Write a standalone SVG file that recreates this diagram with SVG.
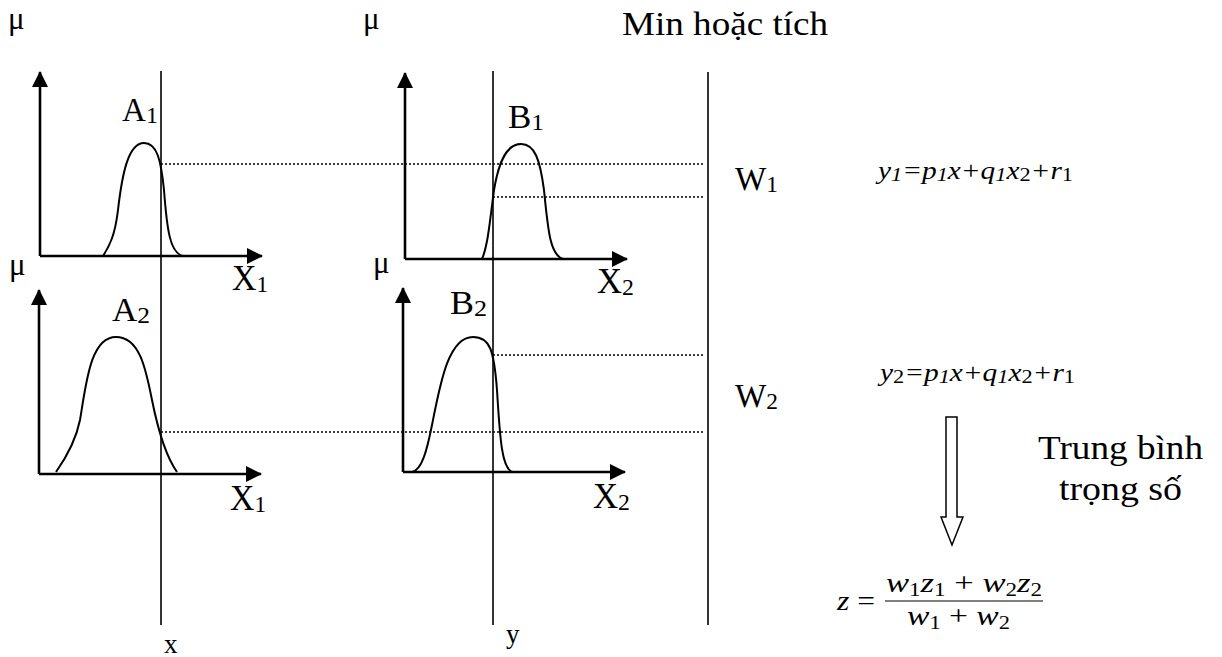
<svg xmlns="http://www.w3.org/2000/svg" width="1222" height="657" viewBox="0 0 1222 657">
<style>
.t{font-family:"Liberation Serif","Times New Roman",serif;fill:#000}
.i{font-family:"Liberation Serif","Times New Roman",serif;font-style:italic;fill:#000}
.ax{stroke:#000;stroke-width:2.6;fill:none}
.v{stroke:#000;stroke-width:1.6;fill:none}
.d{stroke:#000;stroke-width:1.3;stroke-dasharray:2 2;fill:none}
.c{stroke:#000;stroke-width:2;fill:none}
</style>
<defs>
<marker id="ah" markerUnits="userSpaceOnUse" markerWidth="16" markerHeight="16" viewBox="0 0 16 16" refX="15" refY="8" orient="auto">
<path d="M0,0 L16,8 L0,16 Z" fill="#000"/>
</marker>
</defs>
<rect width="1222" height="657" fill="#fff"/>

<text class="t" x="622" y="35" font-size="33" textLength="206" lengthAdjust="spacingAndGlyphs">Min hoặc tích</text>

<g id="connectors">
<line class="v" x1="161" y1="71" x2="161" y2="625"/>
<line class="v" x1="493" y1="71" x2="493" y2="625"/>
<line class="v" x1="708" y1="72" x2="708" y2="625"/>
<line class="d" x1="161" y1="164" x2="705" y2="164"/>
<line class="d" x1="493" y1="197" x2="705" y2="197"/>
<line class="d" x1="493" y1="355" x2="705" y2="355"/>
<line class="d" x1="161" y1="432" x2="705" y2="432"/>
<polygon points="946,417 957,417 957,517 963,517 952,545 941,517 946,517" fill="#fff" stroke="#000" stroke-width="1.5"/>
</g>

<g id="panel-A1">
<line class="ax" x1="40" y1="256" x2="40" y2="72" marker-end="url(#ah)"/>
<line class="ax" x1="40" y1="256" x2="262" y2="256" marker-end="url(#ah)"/>
<path class="c" d="M103,256 C110,245 115,235 118,210 C122,175 128,143 144,143 C157,143 161,160 164,190 C167,230 170,253 183,256"/>
<text class="t" x="8" y="29" font-size="31">μ</text>
<text class="t" x="122" y="121" font-size="33" textLength="36" lengthAdjust="spacingAndGlyphs">A<tspan font-size="24" dy="2">1</tspan></text>
<text class="t" x="232" y="290" font-size="35" textLength="36" lengthAdjust="spacingAndGlyphs">X<tspan font-size="24" dy="2">1</tspan></text>
</g>

<g id="panel-A2">
<line class="ax" x1="39" y1="474" x2="39" y2="290" marker-end="url(#ah)"/>
<line class="ax" x1="39" y1="474" x2="261" y2="474" marker-end="url(#ah)"/>
<path class="c" d="M56,472 C68,455 76,440 80,420 C86,385 90,337 116,337 C140,337 146,370 152,400 C158,430 165,455 177,472"/>
<text class="t" x="9" y="275" font-size="31">μ</text>
<text class="t" x="112" y="321" font-size="33" textLength="38" lengthAdjust="spacingAndGlyphs">A<tspan font-size="24" dy="2">2</tspan></text>
<text class="t" x="230" y="510" font-size="35" textLength="36" lengthAdjust="spacingAndGlyphs">X<tspan font-size="24" dy="2">1</tspan></text>
</g>

<g id="panel-B1">
<line class="ax" x1="405" y1="259" x2="405" y2="73" marker-end="url(#ah)"/>
<line class="ax" x1="405" y1="259" x2="627" y2="259" marker-end="url(#ah)"/>
<path class="c" d="M482,259 C488,245 490,220 494,190 C499,160 507,144 521,144 C535,144 540,160 544,190 C548,230 550,255 563,259"/>
<text class="t" x="363" y="29" font-size="31">μ</text>
<text class="t" x="508" y="128" font-size="33" textLength="36" lengthAdjust="spacingAndGlyphs">B<tspan font-size="24" dy="2">1</tspan></text>
<text class="t" x="597" y="293" font-size="35" textLength="37" lengthAdjust="spacingAndGlyphs">X<tspan font-size="24" dy="2">2</tspan></text>
</g>

<g id="panel-B2">
<line class="ax" x1="403" y1="472" x2="403" y2="288" marker-end="url(#ah)"/>
<line class="ax" x1="403" y1="472" x2="625" y2="472" marker-end="url(#ah)"/>
<path class="c" d="M412,472 C422,470 427,450 432,425 C440,385 448,337 473,337 C490,337 494,350 497,390 C500,440 502,470 513,472"/>
<text class="t" x="373" y="273" font-size="31">μ</text>
<text class="t" x="450" y="314" font-size="33" textLength="37" lengthAdjust="spacingAndGlyphs">B<tspan font-size="24" dy="2">2</tspan></text>
<text class="t" x="593" y="508" font-size="35" textLength="37" lengthAdjust="spacingAndGlyphs">X<tspan font-size="24" dy="2">2</tspan></text>
</g>

<g id="label-W1">
<text class="t" x="735" y="190" font-size="34" textLength="43" lengthAdjust="spacingAndGlyphs">W<tspan font-size="24" dy="2">1</tspan></text>
</g>
<g id="label-W2">
<text class="t" x="735" y="407" font-size="34" textLength="43" lengthAdjust="spacingAndGlyphs">W<tspan font-size="24" dy="2">2</tspan></text>
</g>

<g id="rule-1">
<text class="i" x="878" y="179" font-size="25" textLength="195" lengthAdjust="spacingAndGlyphs">y<tspan font-size="19" dy="2">1</tspan><tspan dy="-2">=p</tspan><tspan font-size="19" dy="2">1</tspan><tspan dy="-2">x+q</tspan><tspan font-size="19" dy="2">1</tspan><tspan dy="-2">x</tspan><tspan font-size="19" dy="2" font-style="normal">2</tspan><tspan dy="-2">+r</tspan><tspan font-size="19" dy="2" font-style="normal">1</tspan></text>
</g>
<g id="rule-2">
<text class="i" x="880" y="381" font-size="25" textLength="195" lengthAdjust="spacingAndGlyphs">y<tspan font-size="19" dy="2" font-style="normal">2</tspan><tspan dy="-2">=p</tspan><tspan font-size="19" dy="2">1</tspan><tspan dy="-2">x+q</tspan><tspan font-size="19" dy="2">1</tspan><tspan dy="-2">x</tspan><tspan font-size="19" dy="2" font-style="normal">2</tspan><tspan dy="-2">+r</tspan><tspan font-size="19" dy="2" font-style="normal">1</tspan></text>
</g>

<g id="label-avg">
<text class="t" x="1038" y="459" font-size="33" textLength="165" lengthAdjust="spacingAndGlyphs">Trung bình</text>
<text class="t" x="1059" y="500" font-size="33" textLength="123" lengthAdjust="spacingAndGlyphs">trọng số</text>
</g>

<g id="formula-z">
<text class="i" x="837" y="610" font-size="27" textLength="38" lengthAdjust="spacingAndGlyphs">z <tspan font-style="normal">=</tspan></text>
<line x1="885" y1="601" x2="1043" y2="601" stroke="#000" stroke-width="1.2"/>
<text class="i" x="886" y="592" font-size="27" textLength="156" lengthAdjust="spacingAndGlyphs">w<tspan font-size="18" dy="4" font-style="normal">1</tspan><tspan dy="-4">z</tspan><tspan font-size="18" dy="4" font-style="normal">1</tspan><tspan dy="-4" font-style="normal"> + </tspan><tspan>w</tspan><tspan font-size="18" dy="4" font-style="normal">2</tspan><tspan dy="-4">z</tspan><tspan font-size="18" dy="4" font-style="normal">2</tspan></text>
<text class="i" x="907" y="625" font-size="27" textLength="103" lengthAdjust="spacingAndGlyphs">w<tspan font-size="18" dy="4" font-style="normal">1</tspan><tspan dy="-4" font-style="normal"> + </tspan><tspan>w</tspan><tspan font-size="18" dy="4" font-style="normal">2</tspan></text>
</g>

<g id="labels-xy">
<text class="t" x="164" y="653" font-size="27">x</text>
<text class="t" x="506" y="643" font-size="27">y</text>
</g>
</svg>
